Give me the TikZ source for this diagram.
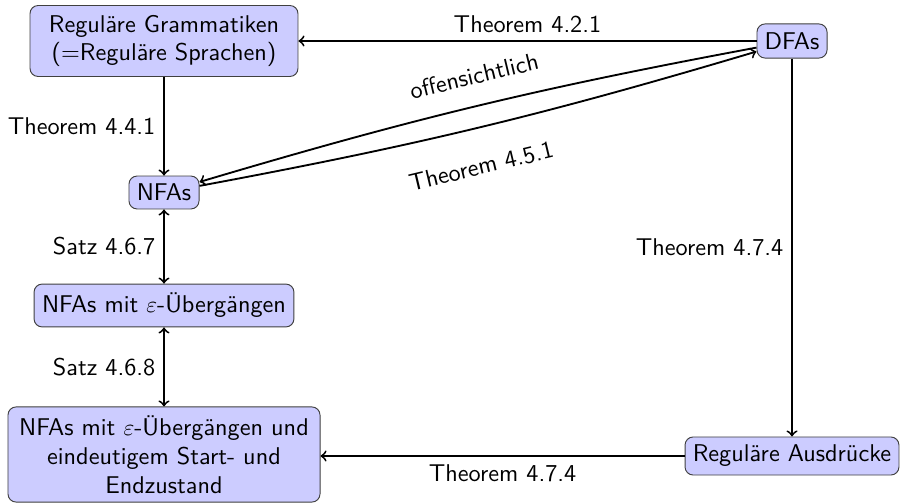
\documentclass[tikz,border=0pt]{standalone}
\usepackage{fontspec}
\begin{document}
\begin{tikzpicture}[x=0.431pt,y=-0.431pt,
  txt/.style={font=\sffamily\fontsize{10.45pt}{12.4pt}\selectfont},
  box/.style={txt, draw=black!75, fill=blue!20, rounded corners=3.5pt, align=center, inner sep=0pt},
  lbl/.style={txt},
  conn/.style={thick,->},
  bconn/.style={thick,<->}]
\useasboundingbox (0,0) rectangle (900,504);
\node[box, minimum width=115.5pt, minimum height=30.6pt] (gram) at (164,41) {Reguläre Grammatiken\\(=Reguläre Sprachen)};
\node[box, minimum width=30.2pt, minimum height=14.7pt] (dfa) at (792,41) {DFAs};
\node[box, minimum width=30.2pt, minimum height=14.2pt] (nfa) at (164,192.5) {NFAs};
\node[box, minimum width=112pt, minimum height=18.5pt] (nfae) at (164,305.5) {NFAs mit $\varepsilon$-Übergängen};
\node[box, minimum width=134.5pt, minimum height=41pt] (bot) at (164,454.5) {NFAs mit $\varepsilon$-Übergängen und\\eindeutigem Start- und\\Endzustand};
\node[box, minimum width=92.2pt, minimum height=16.4pt] (regex) at (792,456) {Reguläre Ausdrücke};

\draw[conn] (dfa) -- node[lbl,above] {Theorem 4.2.1} (gram);
\draw[conn] (gram) -- node[lbl,left] {Theorem 4.4.1} (nfa);
\draw[bconn] (nfa) -- node[lbl,left] {Satz 4.6.7} (nfae);
\draw[bconn] (nfae) -- node[lbl,left] {Satz 4.6.8} (bot);
\draw[conn] (dfa) -- node[lbl,left] {Theorem 4.7.4} (regex);
\draw[conn] (regex.west) -- node[lbl,below] {Theorem 4.7.4} (bot.east |- regex.west);
\draw[conn] (dfa) to[bend right=3] node[lbl,sloped,above=5.5pt,pos=0.49] {offensichtlich} (nfa);
\draw[conn] (nfa) to[bend right=3] node[lbl,sloped,below=9pt,pos=0.485] {Theorem 4.5.1} (dfa);
\end{tikzpicture}
\end{document}
